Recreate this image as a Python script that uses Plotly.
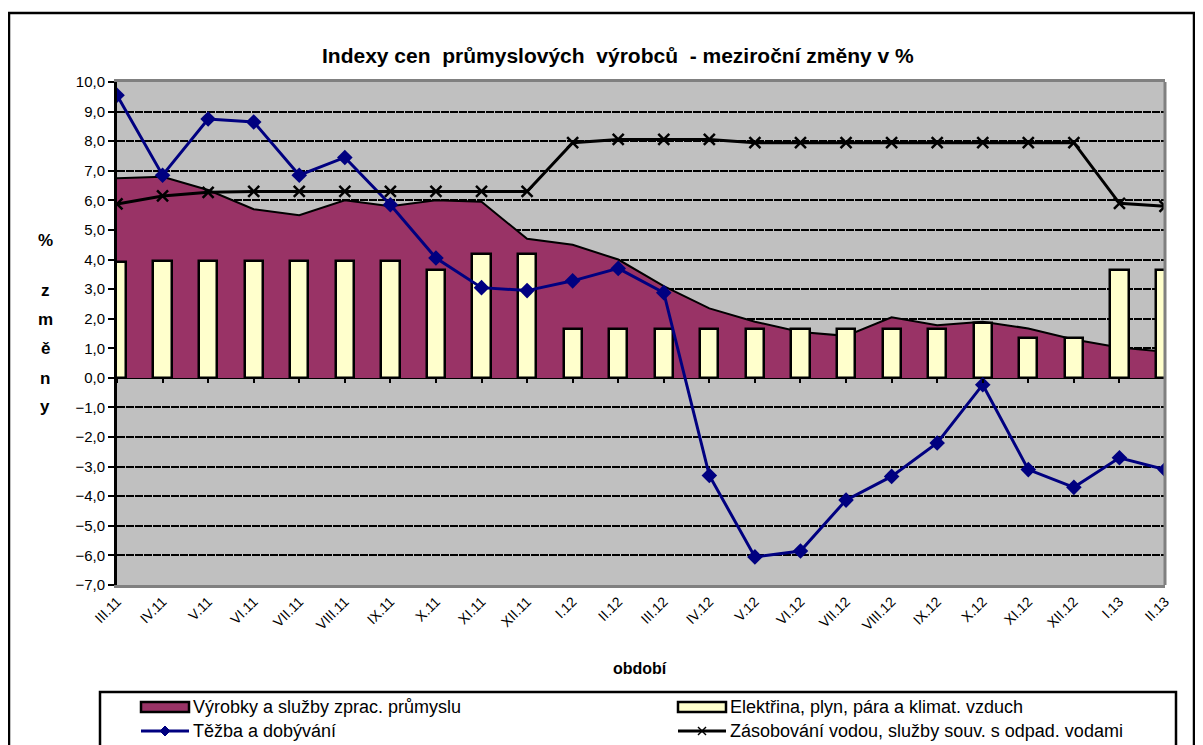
import plotly.graph_objects as go

categories = ["III.11", "IV.11", "V.11", "VI.11", "VII.11", "VIII.11", "IX.11", "X.11",
              "XI.11", "XII.11", "I.12", "II.12", "III.12", "IV.12", "V.12", "VI.12",
              "VII.12", "VIII.12", "IX.12", "X.12", "XI.12", "XII.12", "I.13", "II.13"]
vyrobky = [6.75, 6.8, 6.35, 5.7, 5.5, 6.0, 5.8, 6.0, 5.95, 4.7, 4.5, 4.0,
           3.1, 2.35, 1.9, 1.55, 1.42, 2.05, 1.78, 1.9, 1.67, 1.3, 1.03, 0.88]
elektrina = [3.9, 3.95, 3.95, 3.95, 3.95, 3.95, 3.95, 3.65, 4.2, 4.2, 1.65, 1.65,
             1.65, 1.65, 1.65, 1.65, 1.65, 1.65, 1.65, 1.85, 1.35, 1.35, 3.65, 3.65]
tezba = [9.55, 6.85, 8.75, 8.65, 6.85, 7.45, 5.85, 4.05, 3.05, 2.95, 3.28, 3.7,
         2.88, -3.3, -6.05, -5.85, -4.13, -3.33, -2.2, -0.23, -3.1, -3.7, -2.7, -3.1]
zasobovani = [5.88, 6.15, 6.27, 6.3, 6.3, 6.3, 6.3, 6.3, 6.3, 6.3, 7.95, 8.06,
              8.06, 8.06, 7.95, 7.95, 7.95, 7.95, 7.95, 7.95, 7.95, 7.95, 5.9, 5.8]
y_ticks = list(range(-7, 11))
Y_MIN, Y_MAX = -7, 10

names = ["Výrobky a služby zprac. průmyslu", "Elektřina, plyn, pára a klimat. vzduch",
         "Těžba a dobývání", "Zásobování vodou, služby souv. s odpad. vodami"]

FONT = "Liberation Sans, Arial, sans-serif"
OFF = 8                      # page offset of the plot div (body margin)
W, H = 1203 - OFF, 745 - OFF
# plot area in page pixel coordinates
L, R, T, B = 117, 1165, 82, 585
PURPLE = "#993366"
CREAM = "#FFFFCC"
NAVY = "#000080"

xs = list(range(len(categories)))

fig = go.Figure()
# area (drawn on base subplot so it stays beneath bars)
fig.add_trace(go.Scatter(x=xs, y=vyrobky, name=names[0], mode="lines", fill="tozeroy",
                         fillcolor=PURPLE, line=dict(color="black", width=2),
                         xaxis="x", yaxis="y", showlegend=False))
fig.add_trace(go.Bar(x=xs, y=elektrina, name=names[1], width=0.4,
                     marker=dict(color=CREAM, line=dict(color="black", width=2.5)),
                     xaxis="x", yaxis="y2", showlegend=False))
fig.add_trace(go.Scatter(x=xs, y=tezba, name=names[2], mode="lines+markers",
                         line=dict(color=NAVY, width=3),
                         marker=dict(symbol="diamond", size=12, color=NAVY),
                         xaxis="x", yaxis="y2", showlegend=False))
fig.add_trace(go.Scatter(x=xs, y=zasobovani, name=names[3], mode="lines+markers",
                         line=dict(color="black", width=3),
                         marker=dict(symbol="x-thin", size=11, color="black",
                                     line=dict(color="black", width=2.5)),
                         xaxis="x2", yaxis="y2", showlegend=False))


def px(x):
    return (x - L) / (R - L)


def py(y):
    return (B - y) / (B - T)


shapes = []
# outer frames
shapes.append(dict(type="rect", xref="paper", yref="paper", x0=px(9), x1=px(1194),
                   y0=py(-20), y1=py(4), line=dict(color="black", width=2.5)))
shapes.append(dict(type="rect", xref="paper", yref="paper", x0=px(9), x1=px(1194),
                   y0=py(13), y1=py(770), line=dict(color="black", width=2.5)))
# right border of plot area
shapes.append(dict(type="line", xref="paper", yref="paper", x0=1, x1=1, y0=0, y1=1,
                   line=dict(color="#808080", width=3)))
# legend box
shapes.append(dict(type="rect", xref="paper", yref="paper", x0=px(100), x1=px(1176),
                   y0=py(692), y1=py(770), fillcolor="white",
                   line=dict(color="black", width=2.5)))

r1, r2 = 707, 731
c1s, c1e = 141, 189
c2s, c2e = 678, 726
# legend symbols
shapes.append(dict(type="rect", xref="paper", yref="paper", x0=px(c1s), x1=px(c1e),
                   y0=py(r1 - 5), y1=py(r1 + 5), fillcolor=PURPLE,
                   line=dict(color="black", width=2.5)))
shapes.append(dict(type="rect", xref="paper", yref="paper", x0=px(c2s), x1=px(c2e),
                   y0=py(r1 - 5), y1=py(r1 + 5), fillcolor=CREAM,
                   line=dict(color="black", width=2.5)))
shapes.append(dict(type="line", xref="paper", yref="paper", x0=px(c1s), x1=px(c1e),
                   y0=py(r2), y1=py(r2), line=dict(color=NAVY, width=3)))
cx = (c1s + c1e) / 2
d = 5
shapes.append(dict(type="path", xref="paper", yref="paper",
                   path=f"M {px(cx - d)} {py(r2)} L {px(cx)} {py(r2 - d)} L {px(cx + d)} {py(r2)} L {px(cx)} {py(r2 + d)} Z",
                   fillcolor=NAVY, line=dict(color=NAVY, width=1)))
shapes.append(dict(type="line", xref="paper", yref="paper", x0=px(c2s), x1=px(c2e),
                   y0=py(r2), y1=py(r2), line=dict(color="black", width=3)))
cx2 = (c2s + c2e) / 2
e = 4
shapes.append(dict(type="line", xref="paper", yref="paper", x0=px(cx2 - e), x1=px(cx2 + e),
                   y0=py(r2 - e), y1=py(r2 + e), line=dict(color="black", width=1.5)))
shapes.append(dict(type="line", xref="paper", yref="paper", x0=px(cx2 - e), x1=px(cx2 + e),
                   y0=py(r2 + e), y1=py(r2 - e), line=dict(color="black", width=1.5)))

annotations = []
leg_font = dict(family=FONT, size=18, color="black")
annotations.append(dict(text=names[0], xref="paper", yref="paper", x=px(c1e + 2), y=py(r1),
                        xanchor="left", yanchor="middle", showarrow=False, font=leg_font))
annotations.append(dict(text=names[1], xref="paper", yref="paper", x=px(c2e + 2), y=py(r1),
                        xanchor="left", yanchor="middle", showarrow=False, font=leg_font))
annotations.append(dict(text=names[2], xref="paper", yref="paper", x=px(c1e + 2), y=py(r2),
                        xanchor="left", yanchor="middle", showarrow=False, font=leg_font))
annotations.append(dict(text=names[3], xref="paper", yref="paper", x=px(c2e + 2), y=py(r2),
                        xanchor="left", yanchor="middle", showarrow=False, font=leg_font))

# title
annotations.append(dict(text="<b>Indexy cen  průmyslových  výrobců  - meziroční změny v %</b>",
                        xref="paper", yref="paper", x=px(618), y=py(55),
                        xanchor="center", yanchor="middle", showarrow=False,
                        font=dict(family=FONT, size=21, color="black")))
# x axis title
annotations.append(dict(text="<b>období</b>", xref="paper", yref="paper", x=px(640), y=py(668),
                        xanchor="center", yanchor="middle", showarrow=False,
                        font=dict(family=FONT, size=16, color="black")))
# y axis title (stacked letters)
for ch, yy in [("%", 240), ("z", 290), ("m", 319), ("ě", 348), ("n", 378), ("y", 407)]:
    annotations.append(dict(text=f"<b>{ch}</b>", xref="paper", yref="paper", x=px(45), y=py(yy),
                            xanchor="center", yanchor="middle", showarrow=False,
                            font=dict(family=FONT, size=17, color="black")))

zero_pos = (0 - Y_MIN) / (Y_MAX - Y_MIN)

fig.update_layout(
    width=W, height=H,
    margin=dict(l=L - OFF, r=W - (R - OFF), t=T - OFF, b=H - (B - OFF), pad=0),
    paper_bgcolor="white",
    plot_bgcolor="#C0C0C0",
    separators=", ",
    showlegend=False,
    font=dict(family=FONT, size=14, color="black"),
    xaxis=dict(range=[0, len(categories) - 1], tickmode="array", tickvals=xs,
               ticktext=categories, tickangle=-45, showgrid=False, zeroline=False,
               showline=True, linecolor="#808080", linewidth=3, mirror=True,
               ticks="", tickfont=dict(family=FONT, size=14, color="black")),
    xaxis2=dict(range=[0, len(categories) - 1], overlaying="x", anchor="free",
                position=zero_pos, side="bottom", tickmode="array", tickvals=xs,
                ticks="outside", ticklen=4, tickwidth=2, tickcolor="black",
                showticklabels=False, showline=False, showgrid=False, zeroline=False),
    yaxis=dict(range=[Y_MIN, Y_MAX], tickmode="array", tickvals=y_ticks, tickformat=".1f",
               showgrid=True, gridcolor="black", gridwidth=2, griddash="8px,1px",
               zeroline=True, zerolinecolor="black", zerolinewidth=3,
               showline=True, linecolor="black", linewidth=3,
               ticks="outside", ticklen=6, tickwidth=2, tickcolor="black",
               tickfont=dict(family=FONT, size=15, color="black")),
    yaxis2=dict(range=[Y_MIN, Y_MAX], overlaying="y", showgrid=False, zeroline=False,
                showticklabels=False, showline=False, ticks=""),
    shapes=shapes,
    annotations=annotations,
    bargap=0,
)

fig.write_html("out.html")
